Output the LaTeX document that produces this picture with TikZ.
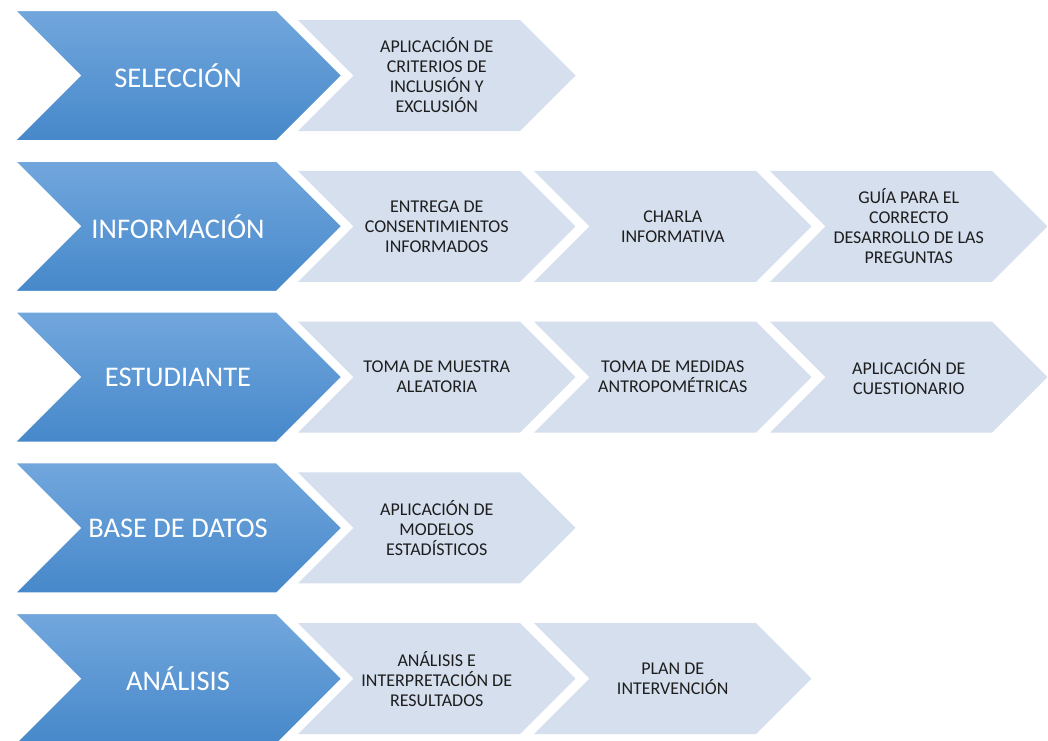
\documentclass[tikz,border=0pt]{standalone}
\usepackage{fontspec}
\setmainfont{Carlito}
\definecolor{bigtop}{HTML}{72A7DD}
\definecolor{bigbot}{HTML}{4688CA}
\definecolor{smallfill}{HTML}{D5DFEE}
\definecolor{smalltext}{HTML}{1E1E1E}
\newcommand\chevpath[5]{%
  \path[#1] (#2,#3-#5) -- ++(#4,0) -- ++(#5,#5) -- ++(-#5,#5) -- ++(-#4,0) -- ++(#5,-#5) -- cycle;}
\newcommand\bigchev[3]{% name, yc, text
  \chevpath{bigstyle}{13}{#2}{264}{66}
  \node[bigtext] (#1) at (178,#2) {#3};}
\newcommand\smallchev[4]{% name, index, yc, text
  \chevpath{smallstyle}{298+236*#2}{#3}{222}{55.5}
  \node[smalltxt] (#1) at (298+236*#2+138.75,#3) {#4};}
\tikzset{
  bigstyle/.style={top color=bigtop, bottom color=bigbot, draw=white, line width=3pt, line join=miter},
  smallstyle/.style={fill=smallfill},
  bigtext/.style={text=white, font=\fontsize{28.5}{32}\selectfont, inner sep=0pt},
  smalltxt/.style={text=smalltext, align=center, font=\fontsize{18}{20}\selectfont, inner sep=0pt},
}
\begin{document}
\begin{tikzpicture}[x=1pt,y=-1pt]
\useasboundingbox (0,0) rectangle (1048,740);
\begin{scope}
\clip (0,0) rectangle (1048,740);
% Row 1
\smallchev{s11}{0}{75.5}{APLICACIÓN DE\\CRITERIOS DE\\INCLUSIÓN Y\\EXCLUSIÓN}
\bigchev{b1}{75.5}{SELECCIÓN}
% Row 2
\smallchev{s21}{0}{226.3}{ENTREGA DE\\CONSENTIMIENTOS\\INFORMADOS}
\smallchev{s22}{1}{226.3}{CHARLA\\INFORMATIVA}
\smallchev{s23}{2}{226.3}{GUÍA PARA EL\\CORRECTO\\DESARROLLO DE LAS\\PREGUNTAS}
\bigchev{b2}{226.3}{INFORMACIÓN}
% Row 3
\smallchev{s31}{0}{377.1}{TOMA DE MUESTRA\\ALEATORIA}
\smallchev{s32}{1}{377.1}{TOMA DE MEDIDAS\\ANTROPOMÉTRICAS}
\smallchev{s33}{2}{377.1}{APLICACIÓN DE\\CUESTIONARIO}
\bigchev{b3}{377.1}{ESTUDIANTE}
% Row 4
\smallchev{s41}{0}{527.9}{APLICACIÓN DE\\MODELOS\\ESTADÍSTICOS}
\bigchev{b4}{527.9}{BASE DE DATOS}
% Row 5
\smallchev{s51}{0}{678.7}{ANÁLISIS E\\INTERPRETACIÓN DE\\RESULTADOS}
\smallchev{s52}{1}{678.7}{PLAN DE\\INTERVENCIÓN}
\bigchev{b5}{678.7}{ANÁLISIS}
\end{scope}
\end{tikzpicture}
\end{document}
